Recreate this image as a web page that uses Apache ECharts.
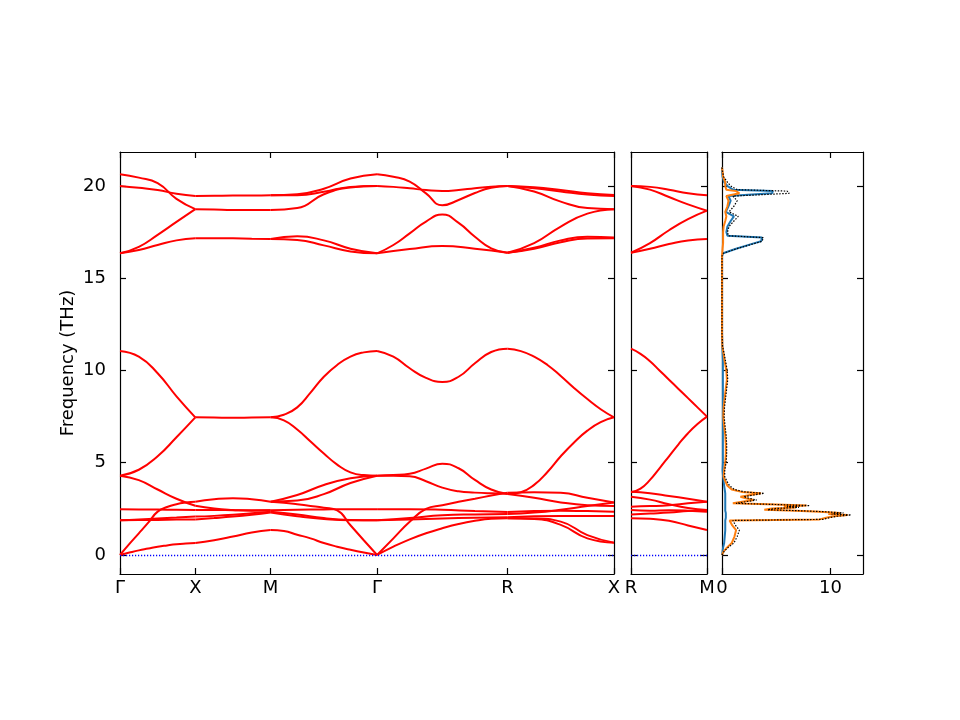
<!DOCTYPE html>
<html>
<head>
<meta charset="UTF-8">
<script src="https://cdn.jsdelivr.net/npm/echarts@6/dist/echarts.min.js"></script>
<style>
  html, body { margin: 0; padding: 0; background: #fff; }
  #main { width: 960px; height: 720px; }
</style>
</head>
<body>
<div id="main"></div>
<script>
// path positions (distance along the q-path, Γ-X = 1)
var bandTicks = [0, 1, 2, 3.4142, 5.1463, 6.5605];
var bandTickNames = ['Γ', 'X', 'M', 'Γ', 'R', 'X'];
var rmTicks = [0, 1.4142];
var rmTickNames = ['R', 'M'];
var freqTicks = [0, 5, 10, 15, 20];
var dosTicks = [0, 10];

// band frequencies (THz), evenly sampled along each segment
var segGX = [
  [20.63, 20.45, 20.15, 19.3, 18.74],
  [20.0, 19.9, 19.78, 19.58, 19.46],
  [16.35, 16.7, 17.35, 18.05, 18.74],
  [16.35, 16.53, 16.8, 17.05, 17.16],
  [11.06, 10.75, 9.85, 8.6, 7.46],
  [4.30, 4.62, 5.35, 6.38, 7.46],
  [4.30, 4.06, 3.55, 3.05, 2.67],
  [0, 0.6, 1.17, 1.75, 2.35, 2.6, 2.75, 2.84, 2.89],
  [0, 0.13, 0.25, 0.35, 0.45, 0.52, 0.58, 0.62, 0.65],
  [2.48, 2.47, 2.46, 2.45, 2.44],
  [1.88, 1.92, 1.98, 2.03, 2.08],
  [1.88, 1.89, 1.9, 1.92, 1.93]
];
var segXM = [
  [19.46, 19.47, 19.48, 19.48, 19.49],
  [18.74, 18.72, 18.7, 18.7, 18.7],
  [17.16, 17.17, 17.16, 17.14, 17.13],
  [7.46, 7.45, 7.44, 7.45, 7.46],
  [2.89, 3.02, 3.08, 3.02, 2.89],
  [2.67, 2.52, 2.44, 2.4, 2.42],
  [0.65, 0.8, 1.0, 1.22, 1.35],
  [2.44, 2.44, 2.43, 2.42, 2.42],
  [2.08, 2.12, 2.18, 2.26, 2.35],
  [1.93, 2.0, 2.08, 2.18, 2.3]
];
var segMG = [
  [19.49, 19.55, 19.85, 20.4, 20.63],
  [19.49, 19.5, 19.68, 19.95, 20.0],
  [18.7, 18.8, 19.55, 19.92, 20.0],
  [17.13, 17.27, 17.05, 16.6, 16.35],
  [17.13, 17.07, 16.78, 16.45, 16.35],
  [7.46, 7.6, 8.0, 8.8, 9.66, 10.3, 10.75, 10.98, 11.06],
  [7.46, 7.3, 6.8, 6.15, 5.5, 4.9, 4.48, 4.33, 4.30],
  [2.89, 3.25, 3.79, 4.16, 4.30],
  [2.89, 2.95, 3.3, 3.9, 4.30],
  [2.89, 2.83, 2.75, 2.66, 2.56, 2.42, 1.61, 0.8, 0],
  [1.35, 1.3, 1.1, 0.9, 0.65, 0.45, 0.28, 0.13, 0],
  [2.42, 2.45, 2.47, 2.48, 2.48],
  [2.35, 2.2, 2.0, 1.9, 1.88],
  [2.3, 2.1, 1.95, 1.88, 1.88]
];
var segGR = [
  [20.63, 20.5, 20.24, 19.6, 18.95, 19.24, 19.62, 19.9, 20.0],
  [20.0, 19.95, 19.87, 19.78, 19.73, 19.78, 19.88, 19.96, 20.0],
  [16.35, 16.8, 17.43, 18.07, 18.45, 18.0, 17.25, 16.62, 16.38],
  [16.35, 16.58, 16.75, 16.6, 16.38],
  [11.06, 10.75, 10.12, 9.6, 9.38, 9.66, 10.39, 11.0, 11.18],
  [4.30, 4.33, 4.4, 4.68, 4.95, 4.7, 4.07, 3.55, 3.3],
  [4.30, 4.3, 4.27, 4.0, 3.65, 3.45, 3.38, 3.34, 3.32],
  [0, 0.9, 1.8, 2.5, 2.7, 2.88, 3.05, 3.22, 3.38],
  [0, 0.45, 0.85, 1.18, 1.45, 1.68, 1.85, 1.96, 1.99],
  [2.48, 2.48, 2.45, 2.38, 2.33],
  [1.88, 2.0, 2.15, 2.2, 2.22],
  [1.88, 1.92, 1.98, 2.02, 2.04]
];
var segRX = [
  [20.0, 19.93, 19.78, 19.6, 19.51],
  [20.0, 19.88, 19.7, 19.53, 19.46],
  [20.0, 19.7, 19.15, 18.8, 18.74],
  [16.38, 16.9, 17.8, 18.5, 18.74],
  [16.38, 16.65, 17.05, 17.25, 17.2],
  [16.38, 16.6, 16.95, 17.15, 17.16],
  [11.18, 11.05, 10.75, 10.3, 9.7, 9.05, 8.45, 7.9, 7.46],
  [3.3, 3.4, 3.8, 4.5, 5.35, 6.1, 6.74, 7.2, 7.46],
  [3.38, 3.4, 3.37, 3.1, 2.84],
  [3.3, 3.1, 2.85, 2.7, 2.66],
  [2.33, 2.38, 2.4, 2.38, 2.35],
  [2.22, 2.3, 2.45, 2.65, 2.84],
  [2.04, 2.1, 2.12, 2.12, 2.11],
  [1.99, 1.95, 1.63, 0.9, 0.67],
  [1.99, 1.98, 1.81, 1.08, 0.67]
];
var segRM = [
  [20.0, 19.95, 19.8, 19.6, 19.5],
  [20.0, 19.8, 19.4, 19.0, 18.66],
  [16.38, 16.9, 17.6, 18.2, 18.66],
  [16.38, 16.6, 16.85, 17.05, 17.13],
  [11.18, 10.9, 10.5, 10.0, 9.5, 9.0, 8.5, 8.0, 7.5],
  [3.4, 3.6, 4.07, 4.7, 5.35, 6.0, 6.6, 7.1, 7.5],
  [3.43, 3.35, 3.2, 3.05, 2.89],
  [3.16, 3.0, 2.75, 2.55, 2.44],
  [2.62, 2.65, 2.7, 2.8, 2.89],
  [2.44, 2.4, 2.42, 2.4, 2.35],
  [2.2, 2.25, 2.3, 2.38, 2.44],
  [1.99, 1.96, 1.85, 1.6, 1.35]
];

// density of states
var dosFreq = [
  0, 0.2, 0.4, 0.65, 1.0, 1.35, 1.6, 1.87,
  1.93, 2.02, 2.1, 2.17, 2.22, 2.28, 2.35, 2.4, 2.45, 2.52, 2.58, 2.63, 2.68, 2.73, 2.8,
  2.9, 2.98, 3.07, 3.16, 3.25, 3.34, 3.42, 3.55, 3.75, 4.0, 4.25,
  4.6, 5.0, 5.5, 6.0, 6.5, 7.0, 7.5, 8.0, 8.5, 9.0, 9.5, 10.0, 10.5, 11.0, 11.3, 12.0, 14.0, 16.2,
  16.35, 16.6, 16.9, 17.0, 17.2, 17.3, 17.5, 17.8, 18.1, 18.35, 18.6, 18.9, 19.2, 19.45, 19.6, 19.72, 19.8, 20.0, 20.2, 20.5, 20.8, 21.0
];
var dosBlue = [
  0, 0.05, 0.1, 0.2, 0.25, 0.3, 0.3, 0.3,
  0.35, 0.35, 0.35, 0.35, 0.35, 0.35, 0.35, 0.3, 0.3, 0.3, 0.3, 0.3, 0.3, 0.3, 0.3,
  0.3, 0.3, 0.3, 0.3, 0.3, 0.3, 0.28, 0.25, 0.2, 0.15, 0.1,
  0.05, 0.08, 0.08, 0.08, 0.08, 0.08, 0.08, 0.08, 0.08, 0.08, 0.08, 0.08, 0.08, 0.05, 0.02, 0, 0, 0,
  0.1, 1.3, 3.0, 3.6, 3.7, 0.5, 0.4, 0.5, 0.8, 1.1, 0.35, 0.6, 0.8, 0.6, 4.6, 4.7, 1.0, 0.5, 0.2, 0.05, 0, 0
];
var dosOrange = [
  0, 0.15, 0.45, 0.9, 1.15, 1.3, 0.95, 0.7,
  9.0, 9.6, 10.3, 11.6, 9.8, 10.9, 9.0, 6.8, 3.9, 4.6, 6.8, 5.7, 7.8, 5.0, 1.0,
  2.0, 2.9, 2.2, 1.7, 2.6, 3.6, 1.8, 0.9, 0.5, 0.3, 0.15,
  0.2, 0.3, 0.35, 0.35, 0.3, 0.2, 0.12, 0.15, 0.25, 0.35, 0.45, 0.4, 0.25, 0.12, 0.03, 0, 0, 0,
  0.02, 0.05, 0.1, 0.1, 0.1, 0.1, 0.1, 0.15, 0.3, 0.4, 0.3, 0.5, 0.6, 0.4, 1.6, 1.3, 0.4, 0.3, 0.3, 0.1, 0.05, 0
];
var dosTotal = [
  0, 0.2, 0.55, 1.1, 1.4, 1.6, 1.25, 1.0,
  9.3, 9.9, 10.6, 11.9, 10.1, 11.2, 9.3, 7.1, 4.2, 4.9, 7.1, 6.0, 8.1, 5.3, 1.3,
  2.3, 3.2, 2.5, 2.0, 2.9, 3.9, 2.1, 1.15, 0.7, 0.45, 0.25,
  0.25, 0.38, 0.43, 0.43, 0.38, 0.28, 0.2, 0.23, 0.33, 0.43, 0.53, 0.48, 0.33, 0.17, 0.05, 0, 0, 0,
  0.12, 1.35, 3.1, 3.7, 3.8, 0.6, 0.5, 0.65, 1.1, 1.5, 0.65, 1.1, 1.4, 1.0, 6.2, 6.0, 1.4, 0.8, 0.5, 0.15, 0.05, 0
];

var FONT = 'DejaVu Sans';
var FS = 18;
var yMin = -1.03, yMax = 21.84;

function nameOf(ticks, names) {
  return function (v) {
    for (var i = 0; i < ticks.length; i++) {
      if (Math.abs(v - ticks[i]) < 1e-6) return names[i];
    }
    return '';
  };
}

function axis(grid, pos, min, max, ticks, labels, margin) {
  var a = {
    type: 'value', gridIndex: grid, position: pos, min: min, max: max,
    axisLine: { show: true, onZero: false, lineStyle: { color: '#000', width: 1.2 } },
    splitLine: { show: false },
    axisTick: { show: true, inside: true, length: 6, customValues: ticks, lineStyle: { color: '#000', width: 1.2 } },
    axisLabel: { show: !!labels, customValues: ticks, color: '#000', fontSize: FS, fontFamily: FONT,
                 margin: margin || 5, showMinLabel: true, showMaxLabel: true }
  };
  if (labels) a.axisLabel.formatter = nameOf(ticks, labels);
  return a;
}

var xAxes = [
  axis(0, 'bottom', 0, 6.5605, bandTicks, bandTickNames),
  axis(0, 'top', 0, 6.5605, bandTicks, null),
  axis(1, 'bottom', 0, 1.4142, rmTicks, rmTickNames),
  axis(1, 'top', 0, 1.4142, rmTicks, null),
  axis(2, 'bottom', 0, 13, dosTicks, ['0', '10']),
  axis(2, 'top', 0, 13, dosTicks, null)
];
var yAxes = [
  axis(0, 'left', yMin, yMax, freqTicks, ['0', '5', '10', '15', '20'], 14),
  axis(0, 'right', yMin, yMax, freqTicks, null),
  axis(1, 'left', yMin, yMax, freqTicks, null),
  axis(1, 'right', yMin, yMax, freqTicks, null),
  axis(2, 'left', yMin, yMax, freqTicks, null),
  axis(2, 'right', yMin, yMax, freqTicks, null)
];
yAxes[0].name = 'Frequency (THz)';
yAxes[0].nameLocation = 'middle';
yAxes[0].nameGap = 43;
yAxes[0].nameMoveOverlap = false;
yAxes[0].nameTextStyle = { color: '#000', fontSize: FS, fontFamily: FONT };

var series = [];
function addSegment(seg, x0, x1, xi, yi) {
  seg.forEach(function (vals) {
    series.push({
      type: 'line', xAxisIndex: xi, yAxisIndex: yi,
      data: vals.map(function (v, i) { return [x0 + (x1 - x0) * i / (vals.length - 1), v]; }),
      smooth: 0.5, showSymbol: false, silent: true,
      lineStyle: { color: '#ff0000', width: 2 }
    });
  });
}
addSegment(segGX, bandTicks[0], bandTicks[1], 0, 0);
addSegment(segXM, bandTicks[1], bandTicks[2], 0, 0);
addSegment(segMG, bandTicks[2], bandTicks[3], 0, 0);
addSegment(segGR, bandTicks[3], bandTicks[4], 0, 0);
addSegment(segRX, bandTicks[4], bandTicks[5], 0, 0);
addSegment(segRM, rmTicks[0], rmTicks[1], 2, 2);

// zero-frequency dotted guide in both band panels
[[0, 0], [2, 2]].forEach(function (ix) {
  series.push({
    type: 'line', xAxisIndex: ix[0], yAxisIndex: ix[1], data: [], silent: true,
    markLine: {
      silent: true, symbol: 'none', label: { show: false }, animation: false,
      lineStyle: { color: '#0000ff', type: [1.2, 1.8], width: 1.3 },
      data: [{ yAxis: 0 }]
    }
  });
});

function dosSeries(vals, color, width, type) {
  return {
    type: 'line', xAxisIndex: 4, yAxisIndex: 4, showSymbol: false, silent: true,
    data: vals.map(function (v, i) { return [v, dosFreq[i]]; }),
    lineStyle: { color: color, width: width, type: type }
  };
}
series.push(dosSeries(dosBlue, '#1f77b4', 2, 'solid'));
series.push(dosSeries(dosOrange, '#ff7f0e', 2, 'solid'));
series.push(dosSeries(dosTotal, '#000000', 1.2, [1.5, 1.5]));

var option = {
  backgroundColor: '#fff',
  animation: false,
  grid: [
    { left: 120, top: 152, width: 494, height: 422 },
    { left: 631, top: 152, width: 76, height: 422 },
    { left: 722, top: 152, width: 141, height: 422 }
  ],
  xAxis: xAxes,
  yAxis: yAxes,
  series: series
};

var myChart = echarts.init(document.getElementById('main'), null, { renderer: 'canvas' });
myChart.setOption(option);
</script>
</body>
</html>
